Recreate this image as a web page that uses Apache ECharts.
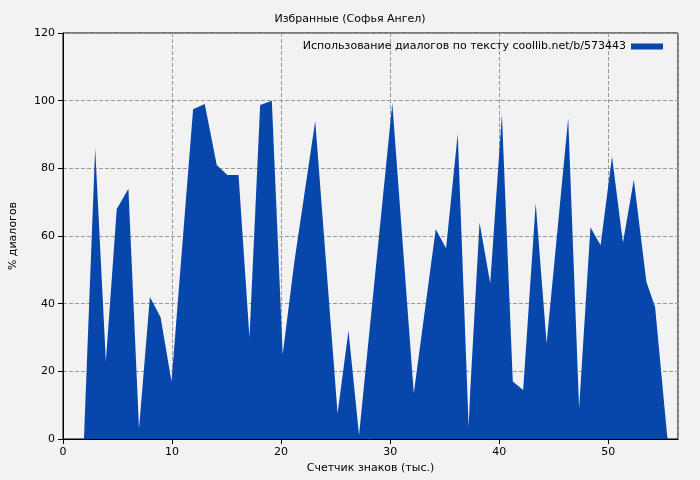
<!DOCTYPE html>
<html>
<head>
<meta charset="utf-8">
<script src="https://cdn.jsdelivr.net/npm/echarts@6/dist/echarts.min.js"></script>
<style>html,body{margin:0;background:#f2f2f2}#chart{width:700px;height:480px}</style>
</head>
<body>
<div id="chart"></div>
<script>
// outline vertices: thousands of chars, % of dialogues
const xs = [0, 1.92, 2.95, 3.93, 4.93, 6.0, 6.97, 7.97, 8.95, 9.95, 11.93, 13.0, 14.1, 15.07, 16.1, 17.1, 18.08, 19.15, 20.15, 21.2, 23.13, 25.18, 26.18, 27.15, 30.2, 32.17, 34.18, 35.13, 36.2, 37.2, 37.35, 38.2, 39.18, 40.25, 41.25, 42.2, 43.35, 44.35, 46.33, 47.33, 48.37, 49.3, 50.35, 51.35, 52.35, 53.5, 54.3, 55.4, 55.45];
const ys = [0, 0, 86, 23, 68, 74, 3, 42, 36, 17, 97.5, 99, 81, 78, 78, 30, 98.7, 100, 25, 52, 94, 7.6, 32, 1.2, 99.2, 13.5, 62, 56.4, 90.2, 3.6, 14.5, 64, 46, 96, 17, 14.5, 69.7, 28.3, 94.8, 9.1, 62.6, 57.3, 83.5, 58, 76.6, 46.5, 39, 1.2, 0];
const seriesName = 'Использование диалогов по тексту coollib.net/b/573443';

const chart = echarts.init(document.getElementById('chart'));
chart.setOption({
  backgroundColor: '#f2f2f2',
  textStyle: { fontFamily: 'DejaVu Sans' },
  animation: false,
  title: { text: 'Избранные (Софья Ангел)', left: 'center', top: 9,
    textStyle: { fontSize: 11, fontWeight: 'normal', color: '#000' } },
  legend: { right: 32, top: 36, align: 'right', itemWidth: 32, itemHeight: 6,
    icon: 'rect', textStyle: { fontSize: 11, color: '#000' } },
  grid: { left: 61, right: 22, top: 33, bottom: 41, show: true, borderColor: '#000', borderWidth: 1 },
  xAxis: {
    type: 'value', min: 0, max: 56.4, interval: 10,
    name: 'Счетчик знаков (тыс.)', nameLocation: 'middle', nameGap: 24,
    nameTextStyle: { fontSize: 11, color: '#000' },
    axisLine: { lineStyle: { color: '#000' } },
    axisTick: { lineStyle: { color: '#000' } },
    axisLabel: { fontSize: 11, color: '#000', showMaxLabel: false },
    splitLine: { lineStyle: { color: '#999', type: 'dashed' } }
  },
  yAxis: {
    type: 'value', min: 0, max: 120, interval: 20,
    name: '% диалогов', nameLocation: 'middle', nameGap: 44,
    nameTextStyle: { fontSize: 11, color: '#000' },
    axisLine: { show: true, lineStyle: { color: '#000' } },
    axisTick: { show: true, lineStyle: { color: '#000' } },
    axisLabel: { fontSize: 11, color: '#000' },
    splitLine: { lineStyle: { color: '#999', type: 'dashed' } }
  },
  series: [{
    name: seriesName, type: 'line', symbol: 'none',
    data: xs.map((x, i) => [x, ys[i]]),
    lineStyle: { width: 0, color: '#0747ac' },
    itemStyle: { color: '#0747ac' },
    areaStyle: { color: '#0747ac', opacity: 1 }
  }]
});
</script>
</body>
</html>
